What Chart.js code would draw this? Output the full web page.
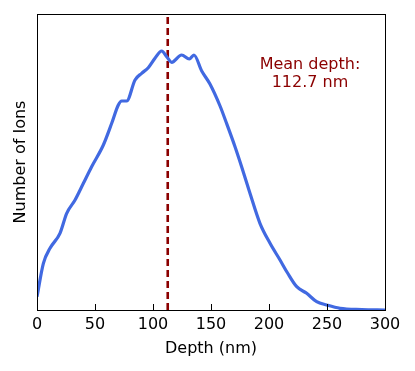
<!DOCTYPE html>
<html><head><meta charset="utf-8">
<script src="https://cdn.jsdelivr.net/npm/chart.js@4.4.0/dist/chart.umd.min.js"></script>
<style>html,body{margin:0;padding:0;background:#fff}#wrap{width:415px;height:371px}</style>
</head><body><div id="wrap"><canvas id="c" width="415" height="371"></canvas></div>
<script>
const depths = [0, 5.5, 11.2, 19.8, 25.6, 32.8, 40, 47.1, 57.2, 64.4, 70.1, 73, 77.3, 84.5, 90.2, 95.9, 101.7, 107.5, 111.8, 116.1, 124.7, 131.3, 135.3, 142, 149.1, 157.8, 163, 170.7, 176.4, 183.6, 192.2, 200.9, 209.5, 216, 223.9, 232.5, 241.1, 249.7, 261.2, 280, 300];
const counts = [133, 467, 617, 767, 967, 1100, 1267, 1433, 1650, 1867, 2050, 2090, 2090, 2300, 2367, 2423, 2517, 2590, 2533, 2477, 2550, 2510, 2550, 2390, 2260, 2040, 1880, 1633, 1433, 1167, 867, 667, 500, 370, 233, 167, 83, 50, 17, 5, 0];
const meanDepth = 112.7;
const xTicks = [0, 50, 100, 150, 200, 250, 300];
const annotationLines = ['Mean depth:', '112.7 nm'];
const yMax = 2960;

const FONT = "'DejaVu Sans', sans-serif";

const framePlugin = {
  id: 'frame',
  afterDraw(chart) {
    const {ctx, chartArea: a, scales} = chart;
    ctx.save();
    ctx.strokeStyle = '#000';
    ctx.lineWidth = 1;
    ctx.strokeRect(Math.round(a.left) + 0.5, Math.round(a.top) + 0.5, Math.round(a.right - a.left), Math.round(a.bottom - a.top));
    const xs = scales.x;
    xs.ticks.forEach(t => {
      const px = Math.round(xs.getPixelForValue(t.value)) + 0.5;
      ctx.beginPath();
      ctx.moveTo(px, a.bottom);
      ctx.lineTo(px, a.bottom - 6);
      ctx.stroke();
    });
    ctx.fillStyle = '#8B0000';
    ctx.font = '16px ' + FONT;
    ctx.textAlign = 'center';
    ctx.textBaseline = 'middle';
    const tx = xs.getPixelForValue(235.3);
    const ys = scales.y;
    ctx.fillText(annotationLines[0], tx, ys.getPixelForValue(2450));
    ctx.fillText(annotationLines[1], tx, ys.getPixelForValue(2270));
    ctx.restore();
  }
};

new Chart(document.getElementById('c'), {
  type: 'line',
  data: {
    datasets: [
      {
        data: depths.map((d, i) => ({x: d, y: counts[i]})),
        borderColor: '#4169E1',
        borderWidth: 3.2,
        pointRadius: 0,
        tension: 0.3,
        cubicInterpolationMode: 'monotone',
        fill: false
      },
      {
        data: [{x: meanDepth, y: 0}, {x: meanDepth, y: yMax}],
        borderColor: '#8B0000',
        borderWidth: 2.6,
        borderDash: [7, 4],
        pointRadius: 0,
        fill: false
      }
    ]
  },
  options: {
    responsive: false,
    animation: false,
    devicePixelRatio: 1,
    layout: {padding: {left: 0, right: 30, top: 14, bottom: 0}},
    plugins: {legend: {display: false}, tooltip: {enabled: false}},
    scales: {
      x: {
        type: 'linear',
        min: 0, max: 300,
        afterBuildTicks(s) { s.ticks = xTicks.map(v => ({value: v})); },
        afterFit(s) { s.height = 61; },
        grid: {display: false, drawTicks: false},
        border: {display: false},
        ticks: {color: '#000', font: {family: FONT, size: 16}, padding: 5, maxRotation: 0},
        title: {display: true, text: 'Depth (nm)', color: '#000', font: {family: FONT, size: 16}, padding: {top: 2, bottom: 13}}
      },
      y: {
        min: 0, max: yMax,
        afterFit(s) { s.width = 37; },
        grid: {display: false, drawTicks: false},
        border: {display: false},
        ticks: {display: false},
        title: {display: true, text: 'Number of Ions', color: '#000', font: {family: FONT, size: 16}, padding: {top: 11, bottom: 0}}
      }
    }
  },
  plugins: [framePlugin]
});
</script></body></html>
